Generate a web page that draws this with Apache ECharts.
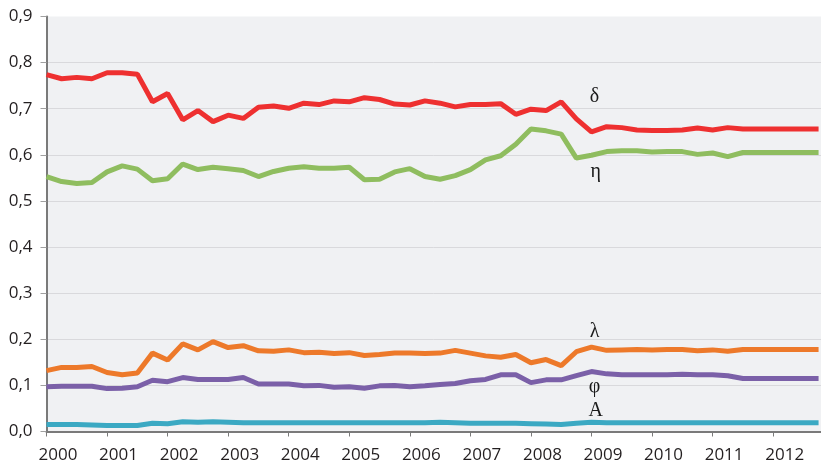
<!DOCTYPE html>
<html>
<head>
<meta charset="utf-8">
<script src="https://cdn.jsdelivr.net/npm/echarts@6/dist/echarts.min.js"></script>
<style>
  html, body { margin: 0; padding: 0; background: #ffffff; }
  #chart { width: 821px; height: 467px; }
</style>
</head>
<body>
<div id="chart"></div>
<script>
// Quarterly observations, 2000 Q1 – 2012 Q4
const years = [2000, 2001, 2002, 2003, 2004, 2005, 2006, 2007, 2008, 2009, 2010, 2011, 2012];
const quarterOffsets = [0, 0.25, 0.5, 0.75];
const quarters = [];
years.forEach(y => quarterOffsets.forEach(q => quarters.push(y + q)));

const delta = [0.774, 0.765, 0.768, 0.765, 0.778, 0.778, 0.775, 0.715, 0.733, 0.676, 0.696, 0.672, 0.686,
  0.679, 0.703, 0.706, 0.701, 0.712, 0.709, 0.717, 0.715, 0.724, 0.720, 0.710, 0.708, 0.717,
  0.712, 0.704, 0.709, 0.709, 0.711, 0.688, 0.699, 0.696, 0.715, 0.678, 0.650, 0.661, 0.659,
  0.654, 0.653, 0.653, 0.654, 0.658, 0.654, 0.659, 0.656, 0.656, 0.656, 0.656, 0.656, 0.656];

const eta = [0.553, 0.542, 0.538, 0.540, 0.563, 0.576, 0.569, 0.544, 0.548, 0.580, 0.568, 0.573, 0.570,
  0.566, 0.553, 0.564, 0.571, 0.574, 0.571, 0.571, 0.573, 0.546, 0.547, 0.563, 0.570, 0.553,
  0.547, 0.555, 0.568, 0.589, 0.598, 0.623, 0.656, 0.652, 0.645, 0.593, 0.599, 0.607, 0.609,
  0.609, 0.606, 0.607, 0.607, 0.601, 0.604, 0.596, 0.605, 0.605, 0.605, 0.605, 0.605, 0.605];

const lambda = [0.132, 0.139, 0.139, 0.141, 0.128, 0.123, 0.127, 0.170, 0.155, 0.190, 0.177, 0.195, 0.182,
  0.186, 0.175, 0.174, 0.177, 0.171, 0.172, 0.169, 0.171, 0.165, 0.167, 0.170, 0.170, 0.169,
  0.170, 0.176, 0.170, 0.164, 0.161, 0.167, 0.149, 0.156, 0.143, 0.173, 0.183, 0.176, 0.177,
  0.178, 0.177, 0.178, 0.178, 0.175, 0.177, 0.174, 0.178, 0.178, 0.178, 0.178, 0.178, 0.178];

const phi = [0.097, 0.098, 0.098, 0.098, 0.093, 0.094, 0.097, 0.111, 0.108, 0.117, 0.113, 0.113, 0.113,
  0.117, 0.103, 0.103, 0.103, 0.099, 0.100, 0.096, 0.097, 0.094, 0.099, 0.100, 0.097, 0.099,
  0.102, 0.104, 0.110, 0.113, 0.123, 0.123, 0.106, 0.112, 0.112, 0.121, 0.130, 0.125, 0.123,
  0.123, 0.123, 0.123, 0.124, 0.123, 0.123, 0.121, 0.115, 0.115, 0.115, 0.115, 0.115, 0.115];

const aVals = [0.015, 0.015, 0.015, 0.014, 0.013, 0.013, 0.013, 0.018, 0.017, 0.021, 0.020, 0.021, 0.020,
  0.019, 0.019, 0.019, 0.019, 0.019, 0.019, 0.019, 0.019, 0.019, 0.019, 0.019, 0.019, 0.019,
  0.020, 0.019, 0.018, 0.018, 0.018, 0.018, 0.017, 0.016, 0.015, 0.018, 0.020, 0.019, 0.019,
  0.019, 0.019, 0.019, 0.019, 0.019, 0.019, 0.019, 0.019, 0.019, 0.019, 0.019, 0.019, 0.019];

const seriesNames = ['δ', 'η', 'λ', 'φ', 'A'];
const yTicks = [0, 0.1, 0.2, 0.3, 0.4, 0.5, 0.6, 0.7, 0.8, 0.9];

const colors = ['#ee3030', '#8fbd5f', '#ed792a', '#7b60a8', '#3ba9c3'];
const allData = [delta, eta, lambda, phi, aVals];
// label anchor positions in data space (year, value)
const labelAnchors = [[2009.05, 0.726], [2009.07, 0.563], [2009.05, 0.216], [2009.05, 0.0965], [2009.07, 0.044]];

const chart = echarts.init(document.getElementById('chart'), null, { renderer: 'canvas' });

const series = allData.map((vals, k) => ({
  name: seriesNames[k],
  type: 'line',
  data: vals.map((v, i) => [quarters[i], v]),
  symbol: 'none',
  clip: true,
  lineStyle: { color: colors[k], width: 5 },
  itemStyle: { color: colors[k] },
  z: 10 - k,
  markPoint: {
    symbol: 'circle',
    symbolSize: 1,
    itemStyle: { color: 'rgba(0,0,0,0)' },
    silent: true,
    animation: false,
    data: [{
      coord: labelAnchors[k],
      label: {
        show: true,
        position: 'inside',
        formatter: seriesNames[k],
        fontFamily: '"Liberation Serif", "DejaVu Serif", serif',
        fontSize: 20,
        color: '#1a1a1a'
      }
    }]
  }
}));

const gridColors = yTicks.map((t, i) => i === yTicks.length - 1 ? 'rgba(0,0,0,0)' : '#d9d9dc');

chart.setOption({
  animation: false,
  backgroundColor: '#ffffff',
  grid: {
    left: 46.5,
    right: 0,
    top: 16.5,
    bottom: 35.5,
    show: true,
    backgroundColor: '#f0f1f3',
    borderWidth: 0
  },
  xAxis: {
    type: 'value',
    min: 2000,
    max: 2012.79,
    interval: 1,
    axisLine: { show: true, onZero: false, lineStyle: { color: '#7a7a7a', width: 2 } },
    axisTick: { show: true, length: 5, lineStyle: { color: '#7a7a7a', width: 1 } },
    splitLine: { show: false },
    axisLabel: {
      showMaxLabel: false,
      margin: 15,
      padding: [0, 0, 0, 23],
      fontFamily: '"Open Sans", sans-serif',
      fontSize: 17,
      color: '#231f20',
      formatter: v => (Number.isInteger(v) ? String(v) : '')
    }
  },
  yAxis: {
    type: 'value',
    min: 0,
    max: 0.9,
    interval: 0.1,
    axisLine: { show: true, lineStyle: { color: '#7a7a7a', width: 2 } },
    axisTick: { show: true, length: 6, lineStyle: { color: '#a0a0a0', width: 1 } },
    splitLine: { show: true, lineStyle: { color: gridColors, width: 1 } },
    axisLabel: {
      margin: 14,
      fontFamily: '"Open Sans", sans-serif',
      fontSize: 17,
      color: '#231f20',
      formatter: v => v.toFixed(1).replace('.', ',')
    }
  },
  series: series
});
</script>
</body>
</html>
